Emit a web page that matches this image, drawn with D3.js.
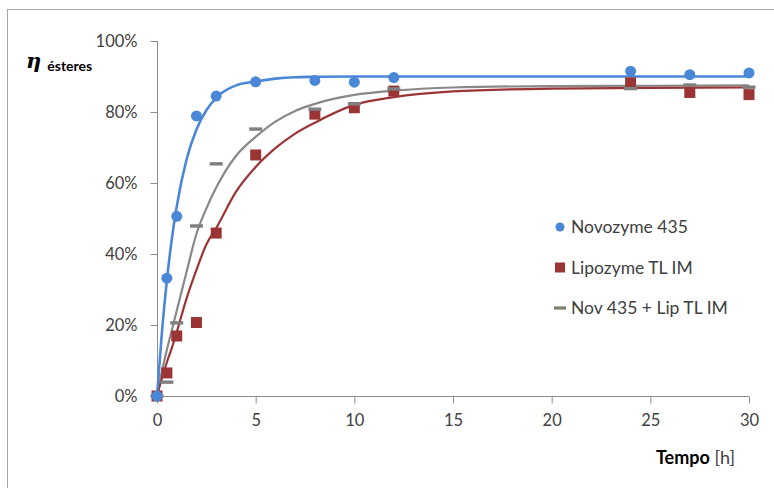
<!DOCTYPE html>
<html>
<head>
<meta charset="utf-8">
<script src="https://cdn.jsdelivr.net/npm/d3@7/dist/d3.min.js"></script>
<style>
  html, body { margin: 0; padding: 0; background: #fff; }
  svg { display: block; font-family: Lato, "Open Sans", sans-serif; }
</style>
</head>
<body>
<div id="chart"></div>
<script>
// measured points (tempo [h], fraction)
const times = [0, 0.5, 1, 2, 3, 5, 8, 10, 12, 24, 27, 30];
const novozyme = [0, 0.332, 0.506, 0.789, 0.845, 0.885, 0.889, 0.884, 0.897, 0.915, 0.905, 0.910];
const lipozyme = [0, 0.065, 0.169, 0.207, 0.459, 0.679, 0.794, 0.812, 0.859, 0.882, 0.855, 0.849];
const mixture  = [0, 0.039, 0.206, 0.479, 0.654, 0.752, 0.808, 0.823, 0.865, 0.866, 0.876, 0.870];

// fitted trend lines
const curveTimes = [0, 0.25, 0.5, 0.75, 1, 1.5, 2, 2.5, 3, 4, 5, 6, 7, 8, 10, 12, 15, 20, 25, 30];
const novozymeFit = [0, 0.18, 0.326, 0.442, 0.534, 0.667, 0.751, 0.805, 0.840, 0.875, 0.886, 0.894, 0.898, 0.899, 0.90, 0.90, 0.90, 0.90, 0.90, 0.90];
const lipozymeFit = [0, 0.05, 0.095, 0.135, 0.18, 0.275, 0.355, 0.427, 0.473, 0.575, 0.645, 0.698, 0.739, 0.770, 0.820, 0.842, 0.858, 0.866, 0.868, 0.869];
const mixtureFit  = [0, 0.07, 0.13, 0.185, 0.24, 0.35, 0.457, 0.528, 0.587, 0.676, 0.730, 0.773, 0.803, 0.823, 0.848, 0.860, 0.869, 0.873, 0.874, 0.875];

const xTicks = [0, 5, 10, 15, 20, 25, 30];
const yTicks = [0, 0.2, 0.4, 0.6, 0.8, 1.0];
const seriesNames = ['Novozyme 435', 'Lipozyme TL IM', 'Nov 435 + Lip TL IM'];

const W = 774, H = 488;
const blue = '#4a87d6', red = '#9b3535', gray = '#888888', dashGray = '#7f7f7f';
const axisColor = '#8c8c8c', textColor = '#404040';

const svg = d3.select('#chart').append('svg').attr('width', W).attr('height', H);

// chart frame
svg.append('rect')
  .attr('x', 7.5).attr('y', 9.5).attr('width', 820).attr('height', 520)
  .attr('fill', 'none').attr('stroke', '#a6a6a6');

const x = d3.scaleLinear().domain([0, 30]).range([157, 749]);
const y = d3.scaleLinear().domain([0, 1]).range([396, 41]);

// y axis
const yAxis = svg.append('g')
  .attr('transform', 'translate(157.5,0)')
  .call(d3.axisLeft(y).tickValues(yTicks).tickSize(7).tickPadding(13)
    .tickFormat(d3.format('.0%')));
// x axis
const xAxis = svg.append('g')
  .attr('transform', 'translate(0,396.5)')
  .call(d3.axisBottom(x).tickValues(xTicks).tickSize(7).tickPadding(11));

[xAxis, yAxis].forEach(ax => {
  ax.select('.domain').attr('stroke', axisColor);
  ax.selectAll('.tick line').attr('stroke', axisColor);
  ax.selectAll('.tick text').attr('fill', textColor)
    .style('font-size', '16.5px').style('font-family', 'Lato, "Open Sans", sans-serif');
});
xAxis.select('.domain').attr('d', `M${x(0)},0H${x(30)}`);
yAxis.select('.domain').attr('d', `M0,${y(0)}V${y(1)}`);

// trend lines
const line = d3.line().x(d => x(d[0])).y(d => y(d[1])).curve(d3.curveMonotoneX);
const fits = [
  { vals: mixtureFit, color: gray, w: 2.2 },
  { vals: lipozymeFit, color: red, w: 2.2 },
  { vals: novozymeFit, color: blue, w: 2.6 },
];
fits.forEach(f => {
  svg.append('path')
    .datum(curveTimes.map((t, i) => [t, f.vals[i]]))
    .attr('d', line)
    .attr('fill', 'none')
    .attr('stroke', f.color)
    .attr('stroke-width', f.w);
});

// markers
svg.append('g').selectAll('rect')
  .data(times.map((t, i) => [t, lipozyme[i]]))
  .join('rect')
  .attr('x', d => x(d[0]) - 5.5).attr('y', d => y(d[1]) - 5.5)
  .attr('width', 11).attr('height', 11)
  .attr('fill', red);

svg.append('g').selectAll('rect')
  .data(times.map((t, i) => [t, mixture[i]]))
  .join('rect')
  .attr('x', d => x(d[0]) - 6.5).attr('y', d => y(d[1]) - 1.7)
  .attr('width', 13).attr('height', 3.4)
  .attr('fill', dashGray);

svg.append('g').selectAll('circle')
  .data(times.map((t, i) => [t, novozyme[i]]))
  .join('circle')
  .attr('cx', d => x(d[0])).attr('cy', d => y(d[1]))
  .attr('r', 5.5)
  .attr('fill', blue);

// legend
const legend = svg.append('g').attr('transform', 'translate(560,227)');
seriesNames.forEach((name, i) => {
  const g = legend.append('g').attr('transform', `translate(0,${i * 40.5})`);
  if (i === 0) g.append('circle').attr('r', 4.5).attr('fill', blue);
  if (i === 1) g.append('rect').attr('x', -5).attr('y', -5).attr('width', 10).attr('height', 10).attr('fill', red);
  if (i === 2) g.append('rect').attr('x', -6).attr('y', -1.6).attr('width', 12).attr('height', 3.2).attr('fill', '#7f7f70');
  g.append('text')
    .attr('x', 11).attr('y', 6)
    .attr('fill', textColor)
    .style('font-size', '17.5px')
    .text(name);
});

// axis titles
const yTitle = svg.append('text').attr('x', 26).attr('y', 68).attr('fill', '#000');
yTitle.append('tspan').style('font-size', '21px').style('font-weight', 'bold')
  .style('font-style', 'italic').style('font-family', '"DejaVu Serif", serif').text('η');
yTitle.append('tspan').attr('dx', 6).attr('dy', 3).style('font-size', '14px')
  .style('font-weight', 'bold').text('ésteres');

const xTitle = svg.append('text').attr('x', 735).attr('y', 464)
  .attr('text-anchor', 'end').attr('fill', '#000').style('font-size', '18px');
xTitle.append('tspan').style('font-weight', 'bold').text('Tempo');
xTitle.append('tspan').attr('fill', textColor).text(' [h]');
</script>
</body>
</html>
